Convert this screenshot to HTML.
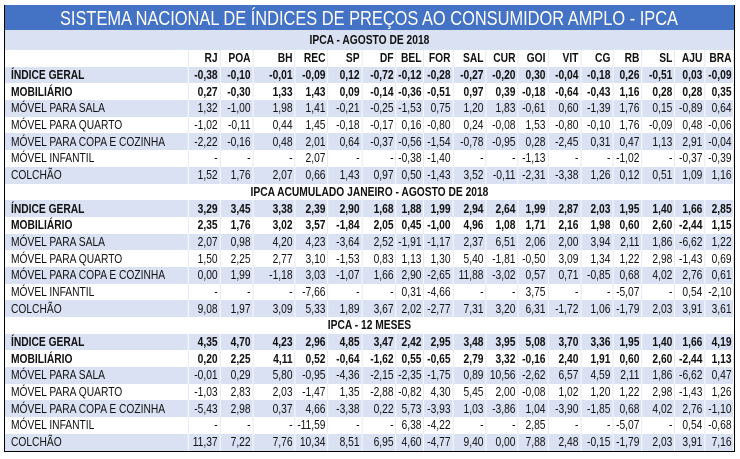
<!DOCTYPE html>
<html><head><meta charset="utf-8"><style>
html,body{margin:0;padding:0;background:#fff;width:740px;height:459px;overflow:hidden}
#wrap{position:absolute;left:4px;top:5px;width:729px;border:1px solid #000;border-top:none;box-sizing:content-box;overflow:hidden}
#title{height:25px;background:#4472C4;display:block}
#sc{width:889px;transform:scaleX(0.82);transform-origin:0 0}
table{border-collapse:collapse;table-layout:fixed;width:889px;font-family:"Liberation Sans",sans-serif;font-size:12.5px;color:#111}
td{height:16.7px;padding:0 2.4px 0 0;text-align:right;white-space:nowrap;overflow:visible;border-right:1px solid #dde4f1;line-height:14px}
td:first-child{text-align:left;padding-left:7.3px}
tr.b td{background:#D9E1F2;border-right:1px solid #fff}
tr.w td{background:#fff}
tr.bold td{font-weight:bold}
tr.h td{text-align:center;font-weight:bold;border-right:none;padding:0}
tr.h1 td{height:20px}
tr.ch td{font-weight:bold;background:#fff}
</style></head><body>
<div id="wrap">
<svg id="title" width="729" height="25"><text x="364" y="20" text-anchor="middle" fill="#fff" font-family="Liberation Sans, sans-serif" font-size="20" textLength="618" lengthAdjust="spacingAndGlyphs">SISTEMA NACIONAL DE ÍNDICES DE PREÇOS AO CONSUMIDOR AMPLO - IPCA</text></svg>
<div id="sc">
<table>
<colgroup><col style="width:223.2px"><col style="width:39px"><col style="width:40.2px"><col style="width:51.2px"><col style="width:40.2px"><col style="width:41.5px"><col style="width:41.5px"><col style="width:34.1px"><col style="width:35.4px"><col style="width:40.2px"><col style="width:39px"><col style="width:36.6px"><col style="width:40.2px"><col style="width:39px"><col style="width:35.4px"><col style="width:40.2px"><col style="width:36.6px"><col style="width:35.4px"></colgroup>
<tr class="h h1 b"><td colspan="18" style="text-align:center;padding:0">IPCA - AGOSTO DE 2018</td></tr>
<tr class="ch"><td></td><td>RJ</td><td>POA</td><td>BH</td><td>REC</td><td>SP</td><td>DF</td><td>BEL</td><td>FOR</td><td>SAL</td><td>CUR</td><td>GOI</td><td>VIT</td><td>CG</td><td>RB</td><td>SL</td><td>AJU</td><td>BRA</td></tr>
<tr class="b bold"><td>ÍNDICE GERAL</td><td>-0,38</td><td>-0,10</td><td>-0,01</td><td>-0,09</td><td>0,12</td><td>-0,72</td><td>-0,12</td><td>-0,28</td><td>-0,27</td><td>-0,20</td><td>0,30</td><td>-0,04</td><td>-0,18</td><td>0,26</td><td>-0,51</td><td>0,03</td><td>-0,09</td></tr>
<tr class="w bold"><td>MOBILIÁRIO</td><td>0,27</td><td>-0,30</td><td>1,33</td><td>1,43</td><td>0,09</td><td>-0,14</td><td>-0,36</td><td>-0,51</td><td>0,97</td><td>0,39</td><td>-0,18</td><td>-0,64</td><td>-0,43</td><td>1,16</td><td>0,28</td><td>0,28</td><td>0,35</td></tr>
<tr class="b"><td>MÓVEL PARA SALA</td><td>1,32</td><td>-1,00</td><td>1,98</td><td>1,41</td><td>-0,21</td><td>-0,25</td><td>-1,53</td><td>0,75</td><td>1,20</td><td>1,83</td><td>-0,61</td><td>0,60</td><td>-1,39</td><td>1,76</td><td>0,15</td><td>-0,89</td><td>0,64</td></tr>
<tr class="w"><td>MÓVEL PARA QUARTO</td><td>-1,02</td><td>-0,11</td><td>0,44</td><td>1,45</td><td>-0,18</td><td>-0,17</td><td>0,16</td><td>-0,80</td><td>0,24</td><td>-0,08</td><td>1,53</td><td>-0,80</td><td>-0,10</td><td>1,76</td><td>-0,09</td><td>0,48</td><td>-0,06</td></tr>
<tr class="b"><td>MÓVEL PARA COPA E COZINHA</td><td>-2,22</td><td>-0,16</td><td>0,48</td><td>2,01</td><td>0,64</td><td>-0,37</td><td>-0,56</td><td>-1,54</td><td>-0,78</td><td>-0,95</td><td>0,28</td><td>-2,45</td><td>0,31</td><td>0,47</td><td>1,13</td><td>2,91</td><td>-0,04</td></tr>
<tr class="w"><td>MÓVEL INFANTIL</td><td>-</td><td>-</td><td>-</td><td>2,07</td><td>-</td><td>-</td><td>-0,38</td><td>-1,40</td><td>-</td><td>-</td><td>-1,13</td><td>-</td><td>-</td><td>-1,02</td><td>-</td><td>-0,37</td><td>-0,39</td></tr>
<tr class="b"><td>COLCHÃO</td><td>1,52</td><td>1,76</td><td>2,07</td><td>0,66</td><td>1,43</td><td>0,97</td><td>0,50</td><td>-1,43</td><td>3,52</td><td>-0,11</td><td>-2,31</td><td>-3,38</td><td>1,26</td><td>0,12</td><td>0,51</td><td>1,09</td><td>1,16</td></tr>
<tr class="h w"><td colspan="18" style="text-align:center;padding:0">IPCA ACUMULADO JANEIRO - AGOSTO DE 2018</td></tr>
<tr class="b bold"><td>ÍNDICE GERAL</td><td>3,29</td><td>3,45</td><td>3,38</td><td>2,39</td><td>2,90</td><td>1,68</td><td>1,88</td><td>1,99</td><td>2,94</td><td>2,64</td><td>1,99</td><td>2,87</td><td>2,03</td><td>1,95</td><td>1,40</td><td>1,66</td><td>2,85</td></tr>
<tr class="w bold"><td>MOBILIÁRIO</td><td>2,35</td><td>1,76</td><td>3,02</td><td>3,57</td><td>-1,84</td><td>2,05</td><td>0,45</td><td>-1,00</td><td>4,96</td><td>1,08</td><td>1,71</td><td>2,16</td><td>1,98</td><td>0,60</td><td>2,60</td><td>-2,44</td><td>1,15</td></tr>
<tr class="b"><td>MÓVEL PARA SALA</td><td>2,07</td><td>0,98</td><td>4,20</td><td>4,23</td><td>-3,64</td><td>2,52</td><td>-1,91</td><td>-1,17</td><td>2,37</td><td>6,51</td><td>2,06</td><td>2,00</td><td>3,94</td><td>2,11</td><td>1,86</td><td>-6,62</td><td>1,22</td></tr>
<tr class="w"><td>MÓVEL PARA QUARTO</td><td>1,50</td><td>2,25</td><td>2,77</td><td>3,10</td><td>-1,53</td><td>0,83</td><td>1,13</td><td>1,30</td><td>5,40</td><td>-1,81</td><td>-0,50</td><td>3,09</td><td>1,34</td><td>1,22</td><td>2,98</td><td>-1,43</td><td>0,69</td></tr>
<tr class="b"><td>MÓVEL PARA COPA E COZINHA</td><td>0,00</td><td>1,99</td><td>-1,18</td><td>3,03</td><td>-1,07</td><td>1,66</td><td>2,90</td><td>-2,65</td><td>11,88</td><td>-3,02</td><td>0,57</td><td>0,71</td><td>-0,85</td><td>0,68</td><td>4,02</td><td>2,76</td><td>0,61</td></tr>
<tr class="w"><td>MÓVEL INFANTIL</td><td>-</td><td>-</td><td>-</td><td>-7,66</td><td>-</td><td>-</td><td>0,31</td><td>-4,66</td><td>-</td><td>-</td><td>3,75</td><td>-</td><td>-</td><td>-5,07</td><td>-</td><td>0,54</td><td>-2,10</td></tr>
<tr class="b"><td>COLCHÃO</td><td>9,08</td><td>1,97</td><td>3,09</td><td>5,33</td><td>1,89</td><td>3,67</td><td>2,02</td><td>-2,77</td><td>7,31</td><td>3,20</td><td>6,31</td><td>-1,72</td><td>1,06</td><td>-1,79</td><td>2,03</td><td>3,91</td><td>3,61</td></tr>
<tr class="h w"><td colspan="18" style="text-align:center;padding:0">IPCA - 12 MESES</td></tr>
<tr class="b bold"><td>ÍNDICE GERAL</td><td>4,35</td><td>4,70</td><td>4,23</td><td>2,96</td><td>4,85</td><td>3,47</td><td>2,42</td><td>2,95</td><td>3,48</td><td>3,95</td><td>5,08</td><td>3,70</td><td>3,36</td><td>1,95</td><td>1,40</td><td>1,66</td><td>4,19</td></tr>
<tr class="w bold"><td>MOBILIÁRIO</td><td>0,20</td><td>2,25</td><td>4,11</td><td>0,52</td><td>-0,64</td><td>-1,62</td><td>0,55</td><td>-0,65</td><td>2,79</td><td>3,32</td><td>-0,16</td><td>2,40</td><td>1,91</td><td>0,60</td><td>2,60</td><td>-2,44</td><td>1,13</td></tr>
<tr class="b"><td>MÓVEL PARA SALA</td><td>-0,01</td><td>0,29</td><td>5,80</td><td>-0,95</td><td>-4,36</td><td>-2,15</td><td>-2,35</td><td>-1,75</td><td>0,89</td><td>10,56</td><td>-2,62</td><td>6,57</td><td>4,59</td><td>2,11</td><td>1,86</td><td>-6,62</td><td>0,47</td></tr>
<tr class="w"><td>MÓVEL PARA QUARTO</td><td>-1,03</td><td>2,83</td><td>2,03</td><td>-1,47</td><td>1,35</td><td>-2,88</td><td>-0,82</td><td>4,30</td><td>5,45</td><td>2,00</td><td>-0,08</td><td>1,02</td><td>1,20</td><td>1,22</td><td>2,98</td><td>-1,43</td><td>1,26</td></tr>
<tr class="b"><td>MÓVEL PARA COPA E COZINHA</td><td>-5,43</td><td>2,98</td><td>0,37</td><td>4,66</td><td>-3,38</td><td>0,22</td><td>5,73</td><td>-3,93</td><td>1,03</td><td>-3,86</td><td>1,04</td><td>-3,90</td><td>-1,85</td><td>0,68</td><td>4,02</td><td>2,76</td><td>-1,10</td></tr>
<tr class="w"><td>MÓVEL INFANTIL</td><td>-</td><td>-</td><td>-</td><td>-11,59</td><td>-</td><td>-</td><td>6,38</td><td>-4,22</td><td>-</td><td>-</td><td>2,85</td><td>-</td><td>-</td><td>-5,07</td><td>-</td><td>0,54</td><td>-0,68</td></tr>
<tr class="b"><td>COLCHÃO</td><td>11,37</td><td>7,22</td><td>7,76</td><td>10,34</td><td>8,51</td><td>6,95</td><td>4,60</td><td>-4,77</td><td>9,40</td><td>0,00</td><td>7,88</td><td>2,48</td><td>-0,15</td><td>-1,79</td><td>2,03</td><td>3,91</td><td>7,16</td></tr>
</table>
</div>
</div>
</body></html>
